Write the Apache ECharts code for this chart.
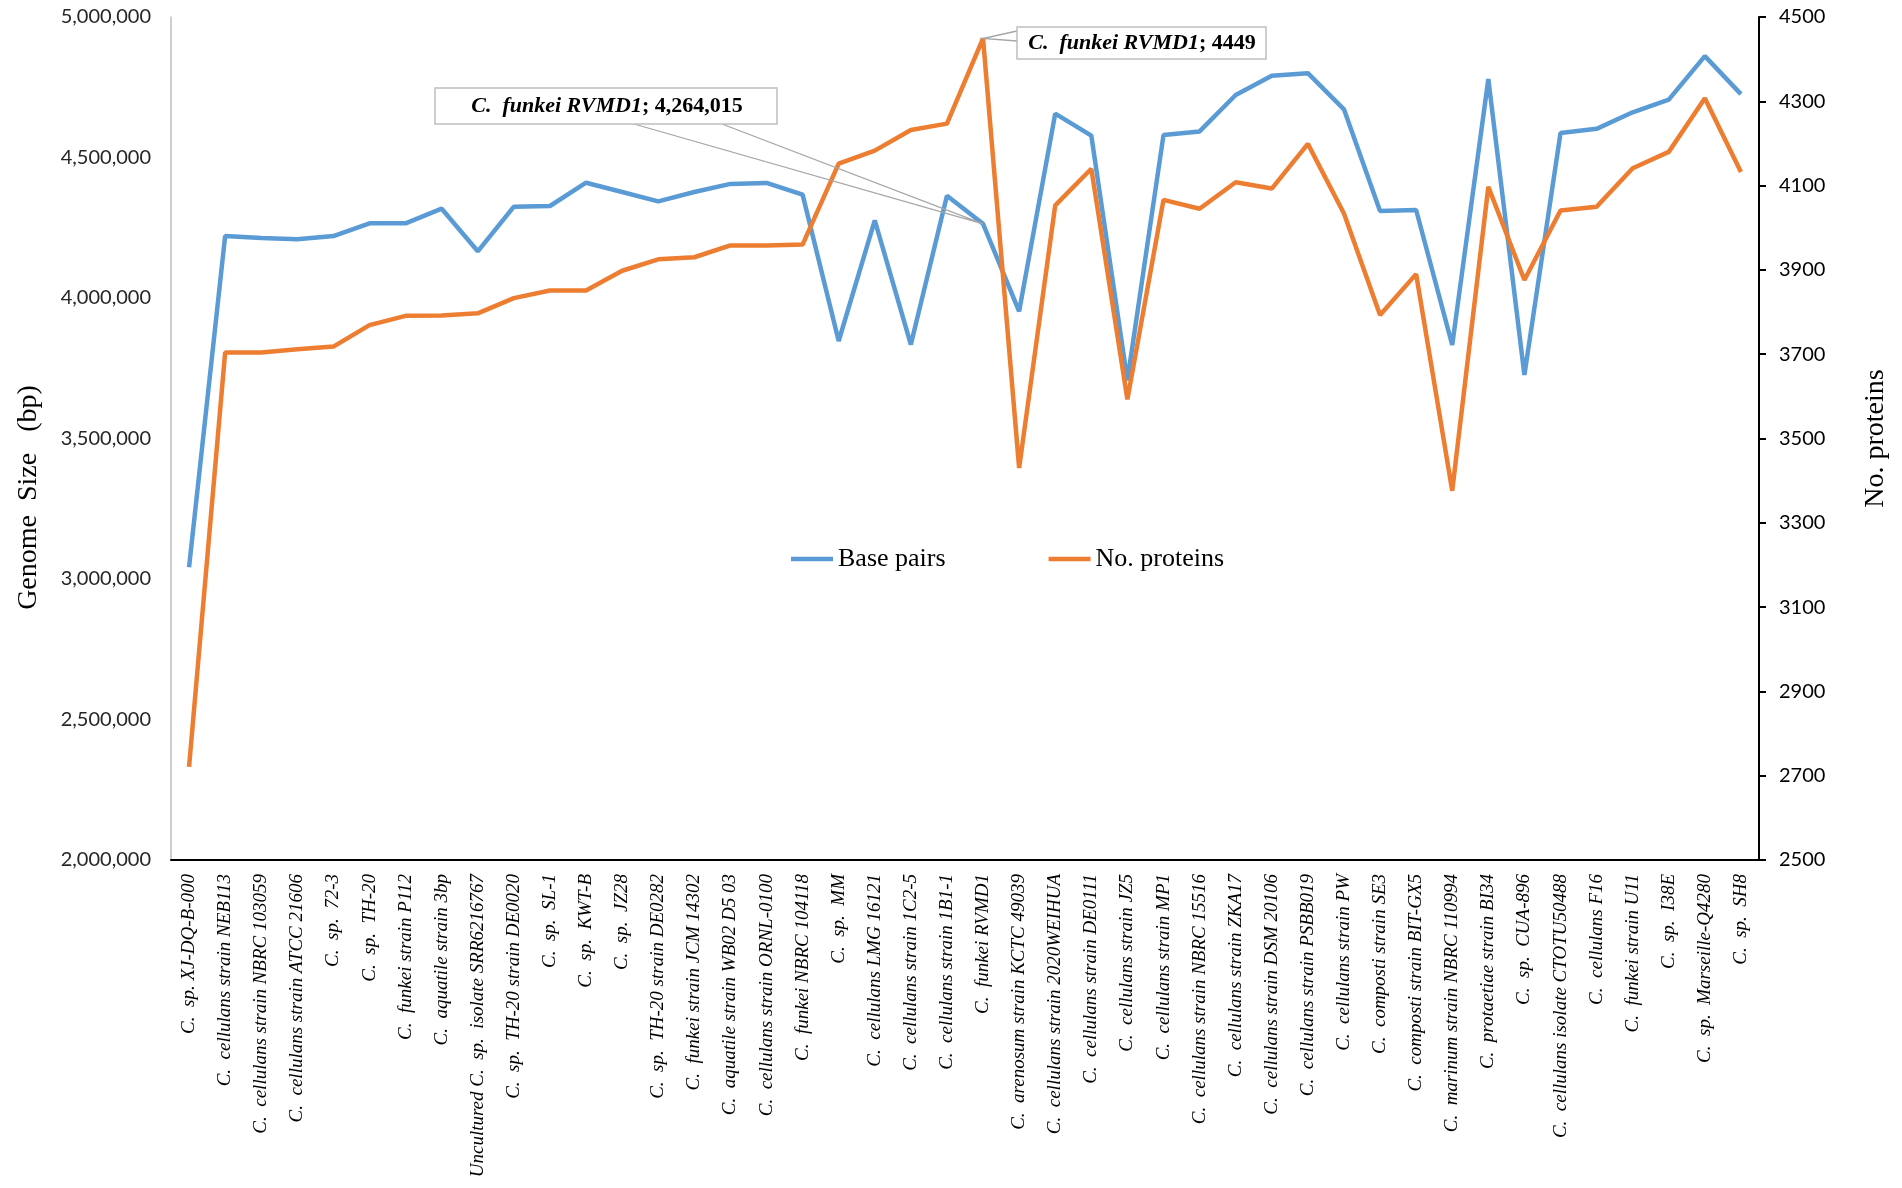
<!DOCTYPE html>
<html lang="en">
<head>
    <meta charset="UTF-8">
    <title>Cellulomonas genomes</title>
    <script src="https://cdn.jsdelivr.net/npm/echarts@6/dist/echarts.min.js"></script>
    <style>
        html, body { margin: 0; padding: 0; background: #fff; }
        #chart { width: 1902px; height: 1188px; }
    </style>
</head>
<body>
<div id="chart"></div>
<script type="application/javascript">

    // strains on the x axis
    var strains = [
        "C.  sp. XJ-DQ-B-000",
        "C.  cellulans strain NEB113",
        "C.  cellulans strain NBRC 103059",
        "C.  cellulans strain ATCC 21606",
        "C.  sp.  72-3",
        "C.  sp.  TH-20",
        "C.  funkei strain P112",
        "C.  aquatile strain 3bp",
        "Uncultured C.  sp.  isolate SRR6216767",
        "C.  sp.  TH-20 strain DE0020",
        "C.  sp.  SL-1",
        "C.  sp.  KWT-B",
        "C.  sp.  JZ28",
        "C.  sp.  TH-20 strain DE0282",
        "C.  funkei strain JCM 14302",
        "C.  aquatile strain WB02 D5 03",
        "C.  cellulans strain ORNL-0100",
        "C.  funkei NBRC 104118",
        "C.  sp.  MM",
        "C.  cellulans LMG 16121",
        "C.  cellulans strain 1C2-5",
        "C.  cellulans strain 1B1-1",
        "C.  funkei RVMD1",
        "C.  arenosum strain KCTC 49039",
        "C.  cellulans strain 2020WEIHUA",
        "C.  cellulans strain DE0111",
        "C.  cellulans strain JZ5",
        "C.  cellulans strain MP1",
        "C.  cellulans strain NBRC 15516",
        "C.  cellulans strain ZKA17",
        "C.  cellulans strain DSM 20106",
        "C.  cellulans strain PSBB019",
        "C.  cellulans strain PW",
        "C.  composti strain SE3",
        "C.  composti strain BIT-GX5",
        "C.  marinum strain NBRC 110994",
        "C.  protaetiae strain BI34",
        "C.  sp.  CUA-896",
        "C.  cellulans isolate CTOTU50488",
        "C.  cellulans F16",
        "C.  funkei strain U11",
        "C.  sp.  I38E",
        "C.  sp.  Marseille-Q4280",
        "C.  sp.  SH8"
    ];

    // genome size (bp), left axis
    var basePairs = [
        3041600, 4220600, 4213500, 4208900, 4220600, 4265800, 4265800, 4317800, 4166200, 4324900,
        4327400, 4410300, 4377200, 4344100, 4377200, 4406000, 4409600, 4367900, 3847000, 4276200,
        3834200, 4364000, 4264015, 3952300, 4656200, 4577600, 3706800, 4580100, 4592900, 4722400,
        4791100, 4800000, 4671500, 4309600, 4313200, 3832700, 4779000, 3726000, 4587000, 4602000,
        4661000, 4706000, 4860837, 4725500
    ];

    // number of proteins, right axis
    var proteins = [
        2721, 3704, 3704, 3712, 3718, 3769, 3791, 3792, 3797, 3833,
        3851, 3851, 3898, 3925, 3930, 3958, 3958, 3960, 4152, 4183,
        4232, 4247, 4449, 3430, 4053, 4140, 3593, 4066, 4045, 4108,
        4093, 4199, 4034, 3793, 3890, 3376, 4097, 3876, 4041, 4050,
        4141, 4180, 4307, 4132
    ];

    var noteIndex = 22;   // C. funkei RVMD1 callouts
    var peakIndex = 42;   // largest genome, labelled

    function fmt(v) {
        return v.toLocaleString('en-US');
    }

    var chart = echarts.init(document.getElementById('chart'));

    var bpData = basePairs.map(function (v, i) {
        if (i !== peakIndex) return v;
        return {
            value: v,
            label: {
                show: true,
                position: 'top',
                distance: 5,
                offset: [-22, 0],
                fontFamily: 'Lato',
                fontWeight: 'bold',
                fontSize: 20,
                color: '#000',
                formatter: function (p) { return fmt(p.value); }
            }
        };
    });

    var option = {
        animation: false,
        backgroundColor: '#fff',
        grid: { left: 171, right: 143, top: 17, bottom: 328 },
        legend: {
            left: 786,
            top: 541,
            icon: 'rect',
            itemWidth: 42,
            itemHeight: 4.5,
            itemGap: 103,
            textStyle: { fontFamily: 'Liberation Serif', fontSize: 26, color: '#000' },
            data: ['Base pairs', 'No. proteins']
        },
        xAxis: {
            type: 'category',
            data: strains,
            boundaryGap: true,
            axisLine: { lineStyle: { color: '#000', width: 2 } },
            axisTick: { show: false },
            axisLabel: {
                interval: 0,
                rotate: 90,
                margin: 14,
                fontFamily: 'Liberation Serif',
                fontStyle: 'italic',
                fontSize: 19,
                color: '#000'
            }
        },
        yAxis: [
            {
                type: 'value',
                min: 2000000,
                max: 5000000,
                interval: 500000,
                name: 'Genome  Size   (bp)',
                nameLocation: 'middle',
                nameGap: 128,
                nameTextStyle: {
                    fontFamily: 'Liberation Serif', fontSize: 28, color: '#000',
                    padding: [0, 118, 0, 0]
                },
                axisLine: { show: true, lineStyle: { color: '#bfbfbf', width: 1.5 } },
                axisTick: { show: false },
                splitLine: { show: false },
                axisLabel: {
                    margin: 20,
                    fontFamily: 'Lato',
                    fontSize: 20,
                    color: '#262626',
                    formatter: function (v) { return fmt(v); }
                }
            },
            {
                type: 'value',
                position: 'right',
                min: 2500,
                max: 4500,
                interval: 200,
                name: 'No. proteins',
                nameLocation: 'middle',
                nameGap: 103,
                nameRotate: 90,
                nameTextStyle: { fontFamily: 'Liberation Serif', fontSize: 28, color: '#000' },
                axisLine: { show: true, lineStyle: { color: '#000', width: 2 } },
                axisTick: { show: true, inside: false, length: 7, lineStyle: { color: '#000', width: 2 } },
                splitLine: { show: false },
                axisLabel: {
                    margin: 20,
                    fontFamily: 'Lato',
                    fontSize: 20,
                    color: '#000',
                    formatter: function (v) { return String(v); }
                }
            }
        ],
        series: [
            {
                name: 'Base pairs',
                type: 'line',
                yAxisIndex: 0,
                data: bpData,
                symbol: 'none',
                color: '#5b9bd5',
                lineStyle: { color: '#5b9bd5', width: 4.5 }
            },
            {
                name: 'No. proteins',
                type: 'line',
                yAxisIndex: 1,
                data: proteins,
                symbol: 'none',
                color: '#ed7d31',
                lineStyle: { color: '#ed7d31', width: 4.5 }
            }
        ]
    };
    chart.setOption(option);

    // callout boxes pointing at C. funkei RVMD1
    var pBp = chart.convertToPixel({ seriesIndex: 0 }, [noteIndex, basePairs[noteIndex]]);
    var pPr = chart.convertToPixel({ seriesIndex: 1 }, [noteIndex, proteins[noteIndex]]);
    var noteName = strains[noteIndex];
    var rich = {
        i: { fontFamily: 'Liberation Serif', fontStyle: 'italic', fontWeight: 'bold', fontSize: 22, fill: '#000' },
        b: { fontFamily: 'Liberation Serif', fontWeight: 'bold', fontSize: 22, fill: '#000' }
    };
    var leaderStyle = { stroke: '#a6a6a6', lineWidth: 1.3, fill: null };
    var boxStyle = { fill: '#fff', stroke: '#bfbfbf', lineWidth: 1.5 };

    chart.setOption({
        graphic: [
            { type: 'polyline', z: 10, shape: { points: [[634, 124], pBp, [722, 124]] }, style: leaderStyle },
            { type: 'rect', z: 11, shape: { x: 435, y: 88, width: 342, height: 36 }, style: boxStyle },
            {
                type: 'text', z: 12,
                style: {
                    x: 607, y: 106, align: 'center', verticalAlign: 'middle',
                    textAlign: 'center', textVerticalAlign: 'middle',
                    text: '{i|' + noteName + '}{b|; ' + fmt(basePairs[noteIndex]) + '}',
                    rich: rich
                }
            },
            { type: 'polyline', z: 10, shape: { points: [[1017, 31], pPr, [1017, 41]] }, style: leaderStyle },
            { type: 'rect', z: 11, shape: { x: 1017, y: 27, width: 249, height: 32 }, style: boxStyle },
            {
                type: 'text', z: 12,
                style: {
                    x: 1142, y: 43, align: 'center', verticalAlign: 'middle',
                    textAlign: 'center', textVerticalAlign: 'middle',
                    text: '{i|' + noteName + '}{b|; ' + proteins[noteIndex] + '}',
                    rich: rich
                }
            }
        ]
    });
</script>
</body>
</html>
